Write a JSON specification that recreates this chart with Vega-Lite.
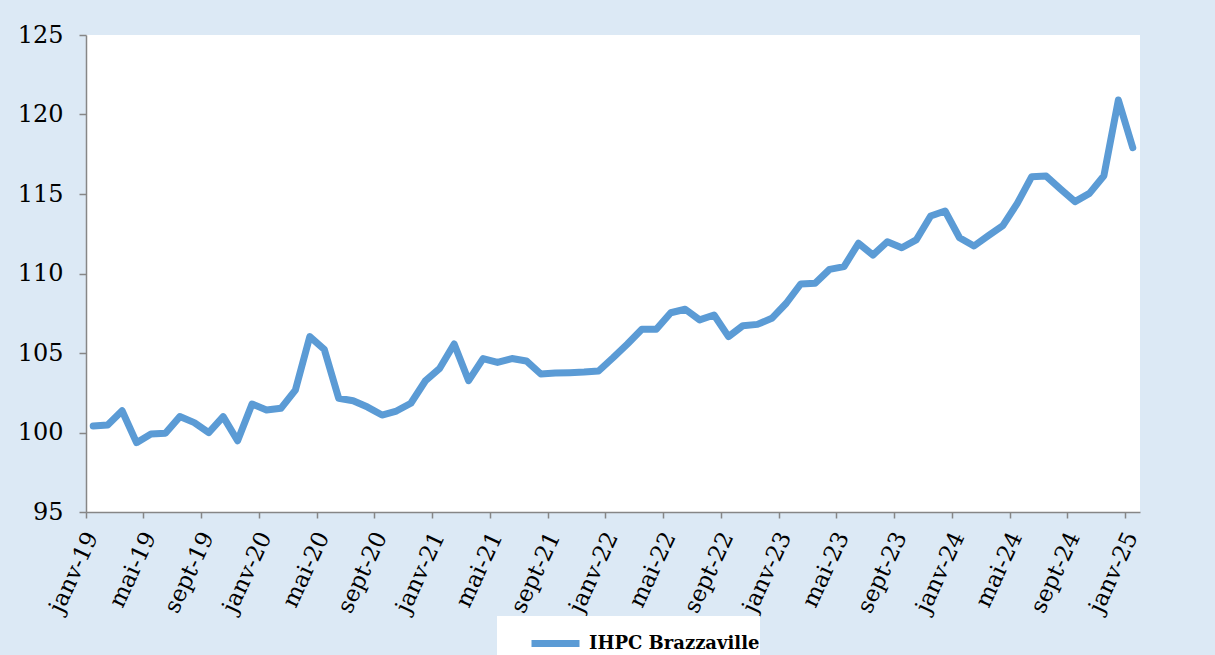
{
  "$schema": "https://vega.github.io/schema/vega-lite/v6.json",
  "width": 1054,
  "height": 477,
  "autosize": {"type": "none"},
  "padding": {"left": 86, "top": 35, "right": 75, "bottom": 143},
  "background": "#dce9f5",
  "config": {
    "view": {"fill": "white", "stroke": null},
    "font": "DejaVu Serif"
  },
  "data": {
    "values": [
      {"mois": "janv-19", "ihpc": 100.41},
      {"mois": "févr-19", "ihpc": 100.47},
      {"mois": "mars-19", "ihpc": 101.37},
      {"mois": "avr-19", "ihpc": 99.36},
      {"mois": "mai-19", "ihpc": 99.9},
      {"mois": "juin-19", "ihpc": 99.95},
      {"mois": "juil-19", "ihpc": 101.0},
      {"mois": "août-19", "ihpc": 100.62},
      {"mois": "sept-19", "ihpc": 99.99},
      {"mois": "oct-19", "ihpc": 101.0},
      {"mois": "nov-19", "ihpc": 99.48},
      {"mois": "déc-19", "ihpc": 101.79},
      {"mois": "janv-20", "ihpc": 101.42},
      {"mois": "févr-20", "ihpc": 101.52},
      {"mois": "mars-20", "ihpc": 102.67},
      {"mois": "avr-20", "ihpc": 106.03},
      {"mois": "mai-20", "ihpc": 105.23},
      {"mois": "juin-20", "ihpc": 102.15},
      {"mois": "juil-20", "ihpc": 102.0},
      {"mois": "août-20", "ihpc": 101.6},
      {"mois": "sept-20", "ihpc": 101.1},
      {"mois": "oct-20", "ihpc": 101.35},
      {"mois": "nov-20", "ihpc": 101.84},
      {"mois": "déc-20", "ihpc": 103.24},
      {"mois": "janv-21", "ihpc": 104.04},
      {"mois": "févr-21", "ihpc": 105.57},
      {"mois": "mars-21", "ihpc": 103.26},
      {"mois": "avr-21", "ihpc": 104.65},
      {"mois": "mai-21", "ihpc": 104.41},
      {"mois": "juin-21", "ihpc": 104.65},
      {"mois": "juil-21", "ihpc": 104.5},
      {"mois": "août-21", "ihpc": 103.68},
      {"mois": "sept-21", "ihpc": 103.74},
      {"mois": "oct-21", "ihpc": 103.76},
      {"mois": "nov-21", "ihpc": 103.8},
      {"mois": "déc-21", "ihpc": 103.87},
      {"mois": "janv-22", "ihpc": 104.7},
      {"mois": "févr-22", "ihpc": 105.57},
      {"mois": "mars-22", "ihpc": 106.49},
      {"mois": "avr-22", "ihpc": 106.49},
      {"mois": "mai-22", "ihpc": 107.53},
      {"mois": "juin-22", "ihpc": 107.75},
      {"mois": "juil-22", "ihpc": 107.08},
      {"mois": "août-22", "ihpc": 107.39},
      {"mois": "sept-22", "ihpc": 106.03},
      {"mois": "oct-22", "ihpc": 106.72},
      {"mois": "nov-22", "ihpc": 106.8},
      {"mois": "déc-22", "ihpc": 107.18},
      {"mois": "janv-23", "ihpc": 108.13},
      {"mois": "févr-23", "ihpc": 109.34},
      {"mois": "mars-23", "ihpc": 109.38},
      {"mois": "avr-23", "ihpc": 110.26},
      {"mois": "mai-23", "ihpc": 110.43},
      {"mois": "juin-23", "ihpc": 111.9},
      {"mois": "juil-23", "ihpc": 111.16},
      {"mois": "août-23", "ihpc": 112.0},
      {"mois": "sept-23", "ihpc": 111.62},
      {"mois": "oct-23", "ihpc": 112.11},
      {"mois": "nov-23", "ihpc": 113.62},
      {"mois": "déc-23", "ihpc": 113.93},
      {"mois": "janv-24", "ihpc": 112.25},
      {"mois": "févr-24", "ihpc": 111.73},
      {"mois": "mars-24", "ihpc": 112.38},
      {"mois": "avr-24", "ihpc": 113.01},
      {"mois": "mai-24", "ihpc": 114.41},
      {"mois": "juin-24", "ihpc": 116.09},
      {"mois": "juil-24", "ihpc": 116.13},
      {"mois": "août-24", "ihpc": 115.31},
      {"mois": "sept-24", "ihpc": 114.52},
      {"mois": "oct-24", "ihpc": 115.04},
      {"mois": "nov-24", "ihpc": 116.15},
      {"mois": "déc-24", "ihpc": 120.91},
      {"mois": "janv-25", "ihpc": 117.91}
    ]
  },
  "mark": {"type": "line", "strokeWidth": 7, "strokeJoin": "round", "strokeCap": "round"},
  "encoding": {
    "x": {
      "field": "mois",
      "type": "ordinal",
      "sort": null,
      "bandPosition": 0.5,
      "scale": {"type": "band", "paddingInner": 0, "paddingOuter": 0},
      "axis": {
        "title": null,
        "values": ["janv-19", "mai-19", "sept-19", "janv-20", "mai-20", "sept-20", "janv-21", "mai-21", "sept-21", "janv-22", "mai-22", "sept-22", "janv-23", "mai-23", "sept-23", "janv-24", "mai-24", "sept-24", "janv-25"],
        "bandPosition": 0,
        "labelAngle": -65,
        "labelAlign": "right",
        "labelBaseline": "middle",
        "labelFontSize": 23,
        "labelColor": "#000000",
        "labelPadding": 15,
        "labelOffset": -1,
        "labelOverlap": false,
        "tickSize": 6,
        "tickWidth": 1.5,
        "tickColor": "#868686",
        "domainColor": "#868686",
        "domainWidth": 1.5
      }
    },
    "y": {
      "field": "ihpc",
      "type": "quantitative",
      "scale": {"domain": [95, 125], "nice": false, "zero": false},
      "axis": {
        "title": null,
        "values": [95, 100, 105, 110, 115, 120, 125],
        "grid": false,
        "labelFontSize": 24,
        "labelColor": "#000000",
        "labelPadding": 16,
        "tickSize": 7,
        "tickWidth": 1.5,
        "tickColor": "#868686",
        "domainColor": "#868686",
        "domainWidth": 1.5
      }
    },
    "color": {
      "datum": "IHPC Brazzaville",
      "type": "nominal",
      "scale": {"range": ["#5b9bd5"]},
      "legend": {
        "title": null,
        "orient": "none",
        "legendX": 411,
        "legendY": 581,
        "fillColor": "white",
        "padding": 0,
        "symbolType": "stroke",
        "symbolSize": 2304,
        "symbolStrokeWidth": 7,
        "symbolOffset": 31,
        "labelFontSize": 18,
        "labelFontWeight": "bold",
        "labelColor": "#000000",
        "labelOffset": 6,
        "labelLimit": 400,
        "labelExpr": "datum.label + '\u00a0\u00a0\u00a0\u00a0\u00a0\u00a0'"
      }
    }
  }
}
